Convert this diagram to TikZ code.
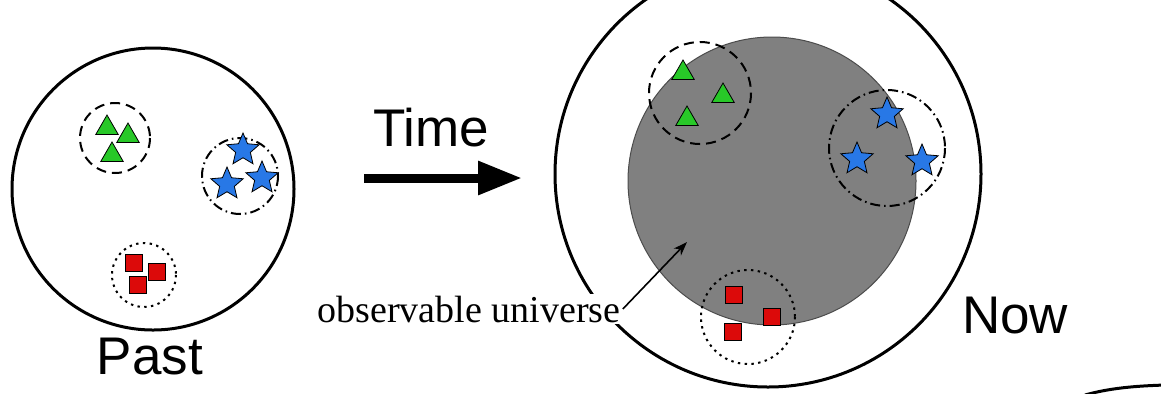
\documentclass[tikz,border=0pt]{standalone}
\usepackage{fontspec}
\setmainfont{Liberation Sans}
\newfontfamily\labelface{Liberation Serif}
\usetikzlibrary{shapes.geometric,arrows.meta}

\definecolor{galgreen}{RGB}{40,200,40}
\definecolor{galblue}{RGB}{40,120,230}
\definecolor{galred}{RGB}{220,10,10}
\definecolor{horizon}{RGB}{128,128,128}

\begin{document}
\begin{tikzpicture}[x=0.5pt, y=-0.5pt,
    every node/.style={font=\fontsize{26.5}{30}\selectfont},
    rim/.style={line width=1.5pt},
    grpgreen/.style={line width=1pt, dash pattern=on 5pt off 3pt},
    grpblue/.style={line width=1pt, dash pattern=on 5pt off 2pt on 0.8pt off 2pt},
    grpred/.style={line width=1pt, dash pattern=on 1.2pt off 2.2pt},
    tri/.style={regular polygon, regular polygon sides=3, draw, fill=galgreen, inner sep=0pt, minimum size=13pt},
    galstar/.style={star, star points=5, star point ratio=2.2, draw, fill=galblue, inner sep=0pt, minimum size=17pt},
    sq/.style={rectangle, draw, fill=galred, inner sep=0pt, minimum size=8.5pt}]
    \useasboundingbox (0,0) rectangle (1161,393);
    \clip (0,0) rectangle (1161,393);

    % past
    \draw[rim] (153,189) circle (141);
    \draw[grpgreen] (115,138) circle (35);
    \node[tri] (pg1) at (107,128) {};
    \node[tri] (pg2) at (128,136) {};
    \node[tri] (pg3) at (112,155) {};
    \draw[grpblue] (240,176) circle (38);
    \node[galstar] (pb1) at (243,150) {};
    \node[galstar] (pb2) at (227,184) {};
    \node[galstar] (pb3) at (262,178) {};
    \draw[grpred] (144,275) circle (32);
    \node[sq] (pr1) at (134,263) {};
    \node[sq] (pr2) at (157,272) {};
    \node[sq] (pr3) at (138,285) {};
    \node (past) at (150,357) {Past};

    % time arrow
    \node (time) at (431,128) {Time};
    \coordinate (t0) at (364,178);
    \coordinate (t1) at (522,178);
    \draw[line width=4.5pt, -{Triangle[length=22pt,width=16pt]}] (t0) -- (t1);

    % now
    \draw[rim] (768,174) circle (213);
    \filldraw[fill=horizon, draw=black!70, line width=0.5pt] (772,181) circle (144);
    \draw[grpgreen] (700,93) circle (51);
    \node[tri] (ng1) at (683,73) {};
    \node[tri] (ng2) at (723,96) {};
    \node[tri] (ng3) at (687,119) {};
    \draw[grpblue] (887,148) circle (58);
    \node[galstar] (nb1) at (887,114) {};
    \node[galstar] (nb2) at (857,159) {};
    \node[galstar] (nb3) at (922,161) {};
    \draw[grpred] (748,317) circle (47);
    \node[sq] (nr1) at (734,295) {};
    \node[sq] (nr2) at (772,317) {};
    \node[sq] (nr3) at (733,332) {};
    \node (now) at (1015,316) {Now};

    % label
    \node[fill=white, inner sep=1pt, font=\labelface\fontsize{19}{22}\selectfont] (obs) at (469,309) {observable universe};
    \coordinate (obstip) at (687,242);
    \draw[line width=0.8pt, -{Stealth[length=7pt,width=5pt]}] (obs.east) -- (obstip);

    \draw[rim] (1085,395) .. controls (1110,388) and (1135,386) .. (1165,385);
\end{tikzpicture}
\end{document}
